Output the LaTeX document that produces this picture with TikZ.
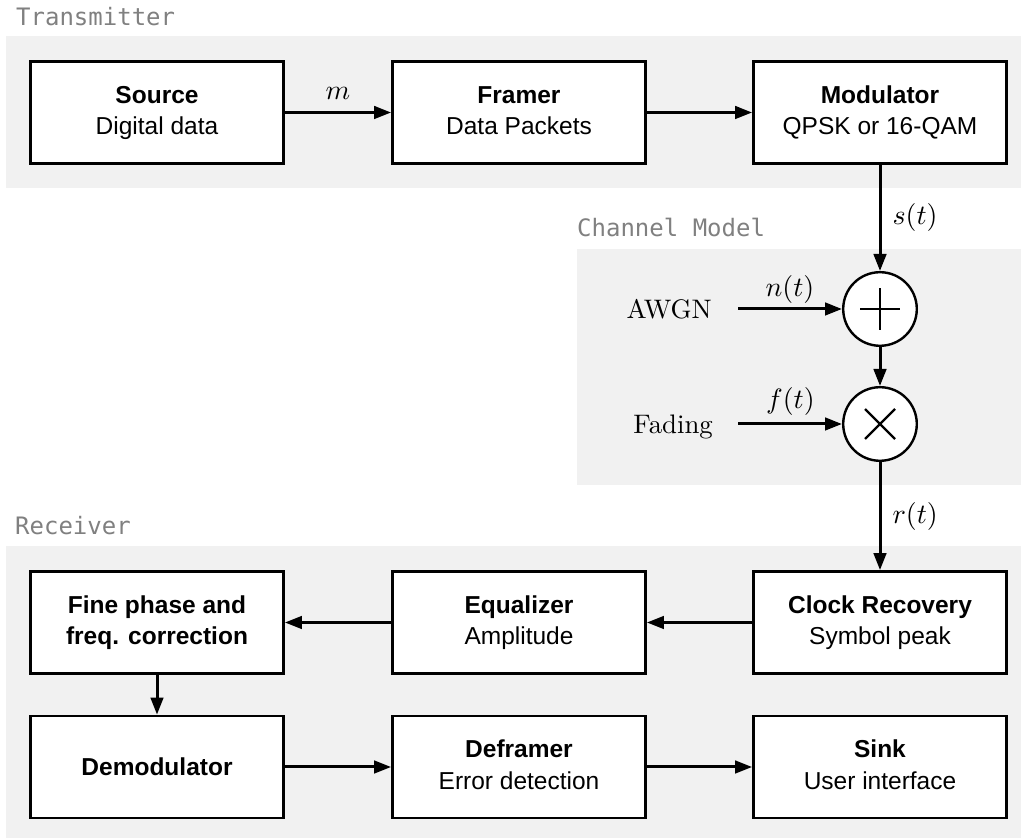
\RequirePackage{fix-cm}
\documentclass[tikz,border=0pt]{standalone}
\usepackage{fontspec}
\usepackage{graphicx}
\newfontfamily\boxfont{Liberation Sans}
\newfontfamily\labelfont{DejaVu Sans Mono}
\usetikzlibrary{arrows.meta}
\definecolor{bggray}{HTML}{F1F1F1}
\definecolor{lblgray}{HTML}{808080}
\newcommand\sclab[1]{\scalebox{2.68}{#1}}
\newcommand\scmath[1]{\scalebox{2.8}{#1}}
\newcommand\blktxt[2]{\rule{0pt}{19pt}\textbf{#1}\\#2\rule[-6pt]{0pt}{6pt}}
\tikzset{
  panel/.style={fill=bggray, draw=none},
  block/.style={draw=black, line width=2.8pt, fill=white, minimum width=253pt, minimum height=102pt, inner sep=0pt, align=center, font=\boxfont\fontsize{24.5}{31.5}\selectfont},
  sumnode/.style={circle, draw=black, line width=2.4pt, fill=white, minimum size=73.6pt, inner sep=0pt},
  conn/.style={line width=3pt, -{Triangle[length=17pt,width=12.5pt]}},
  sym/.style={line width=2.2pt},
  grouplabel/.style={anchor=base west, inner sep=0pt, text=lblgray, font=\labelfont\fontsize{24}{28}\selectfont},
  sig/.style={inner sep=0pt},
  srclabel/.style={anchor=east, inner sep=0pt, text height=18.3pt, text depth=0pt},
}
\begin{document}
\begin{tikzpicture}[x=1pt,y=1pt]
\useasboundingbox (0,0) rectangle (1021,838);
% panels
\fill[panel] (6,650) rectangle (1021,802);
\fill[panel] (577,353) rectangle (1021,589);
\fill[panel] (6,0) rectangle (1021,292);
% group labels
\node[grouplabel] (ltx) at (16,812) {Transmitter};
\node[grouplabel] (lch) at (577,601) {Channel Model};
\node[grouplabel] (lrx) at (15,303) {Receiver};
% transmitter
\node[block] (src) at (157,725.5) {\blktxt{Source}{Digital data}};
\node[block] (frm) at (519,725.5) {\blktxt{Framer}{Data Packets}};
\node[block] (mod) at (880,725.5) {\blktxt{Modulator}{QPSK or 16-QAM}};
% channel
\node[sumnode] (plus) at (880,529) {};
\node[sumnode] (times) at (880,414) {};
\draw[sym] ([xshift=-20pt]plus.center) -- ([xshift=20pt]plus.center);
\draw[sym] ([yshift=-21pt]plus.center) -- ([yshift=21pt]plus.center);
\draw[sym] ([shift={(-15pt,-15pt)}]times.center) -- ([shift={(15pt,15pt)}]times.center);
\draw[sym] ([shift={(-15pt,15pt)}]times.center) -- ([shift={(15pt,-15pt)}]times.center);
\node[srclabel] (awgn) at (712,529) {\sclab{AWGN}};
\node[srclabel] (fad) at (713,414) {\sclab{Fading}};
% receiver
\node[block] (fine) at (157,215.5) {\blktxt{Fine phase and}{\textbf{freq. correction}}};
\node[block] (eq) at (519,215.5) {\blktxt{Equalizer}{Amplitude}};
\node[block] (clk) at (880,215.5) {\blktxt{Clock Recovery}{Symbol peak}};
\node[block] (demod) at (157,71) {\textbf{Demodulator}};
\node[block] (defr) at (519,71) {\blktxt{Deframer}{Error detection}};
\node[block] (sink) at (880,71) {\blktxt{Sink}{User interface}};
% connectors
\draw[conn] (src) -- node[sig, midway, anchor=base, yshift=13pt] {\scmath{$m$}} (frm);
\draw[conn] (frm) -- (mod);
\draw[conn] (mod) -- node[sig, midway, right=11pt] {\scmath{$s(t)$}} (plus);
\draw[conn, shorten <=26pt] (awgn) -- node[sig, pos=0.6, anchor=base, yshift=12pt] {\scmath{$n(t)$}} (plus);
\draw[conn] (plus) -- (times);
\draw[conn, shorten <=25pt] (fad) -- node[sig, pos=0.6, anchor=base, yshift=15pt] {\scmath{$f(t)$}} (times);
\draw[conn] (times) -- node[sig, midway, right=11pt] {\scmath{$r(t)$}} (clk);
\draw[conn] (clk) -- (eq);
\draw[conn] (eq) -- (fine);
\draw[conn] (fine) -- (demod);
\draw[conn] (demod) -- (defr);
\draw[conn] (defr) -- (sink);
\end{tikzpicture}
\end{document}
